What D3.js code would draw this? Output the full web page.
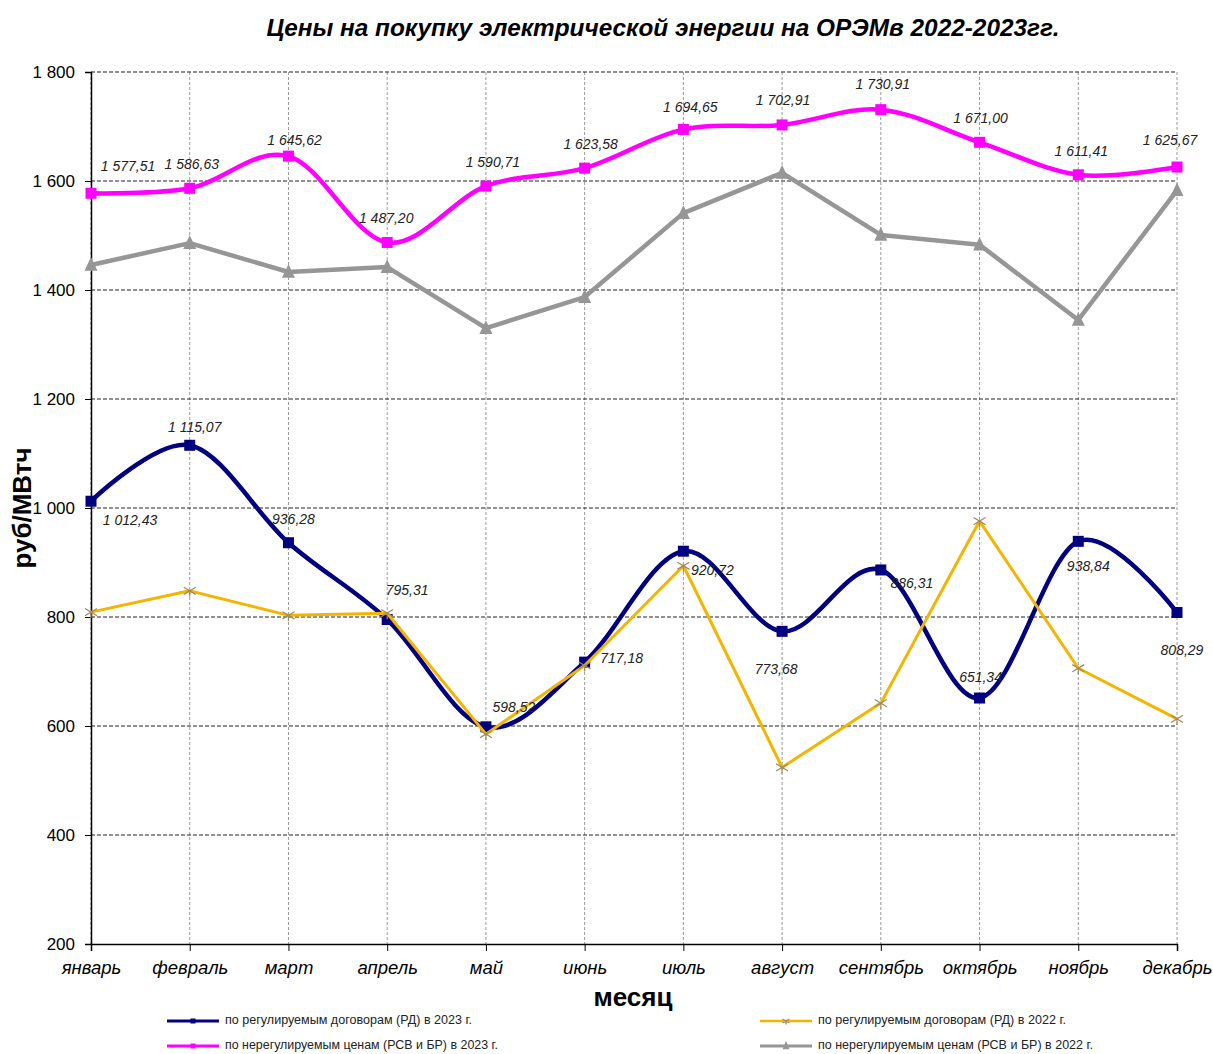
<!DOCTYPE html>
<html><head><meta charset="utf-8">
<script src="https://cdn.jsdelivr.net/npm/d3@7"></script>
<style>body{margin:0;background:#fff}svg{display:block}</style>
</head><body>
<svg id="c" width="1213" height="1054"></svg>
<script>
const months = ["январь","февраль","март","апрель","май","июнь","июль","август","сентябрь","октябрь","ноябрь","декабрь"];
const rd2023 = [1012.43,1115.07,936.28,795.31,598.52,717.18,920.72,773.68,886.31,651.34,938.84,808.29];
const free2023 = [1577.51,1586.63,1645.62,1487.20,1590.71,1623.58,1694.65,1702.91,1730.91,1671.00,1611.41,1625.67];
const rd2022 = [809,848,803,807,585,711,894,524,642,976,706,613];
const free2022 = [1446,1486,1433,1442,1330,1387,1541,1615,1501,1483,1345,1583];
const yTicks = [200,400,600,800,1000,1200,1400,1600,1800];
const legendNames = [
  "по регулируемым договорам (РД) в 2023 г.",
  "по нерегулируемым ценам (РСВ и БР) в 2023 г.",
  "по регулируемым договорам (РД) в 2022 г.",
  "по нерегулируемым ценам (РСВ и БР) в 2022 г."
];
// label placement offsets (px) relative to point
const rdLabelOff = [[39,20],[5,-17],[5,-22],[20,-28],[28,-19],[37,-3],[29,20],[-6,39],[31,14],[1,-20],[10,26],[5,39]];
const freeLabelOff = [[37,-26],[2,-23],[6,-15],[-1,-23],[7,-23],[6,-23],[7,-21],[1,-24],[2,-24],[1,-23],[3,-22],[-7,-26]];

const svg = d3.select("#c");
const L = 91, R = 1177, T = 72, B = 944;
const x = d3.scalePoint().domain(months).range([L, R]).padding(0);
const y = d3.scaleLinear().domain([200,1800]).range([B, T]);
const fmt = v => { const s = v.toFixed(2).replace(".", ","); const [i,d] = s.split(","); return i.replace(/\B(?=(\d{3})+(?!\d))/g," ") + "," + d; };

// title
svg.append("text").attr("x",663).attr("y",36).attr("text-anchor","middle")
  .attr("font-family","'Liberation Sans Narrow','Arial Narrow','Liberation Sans',Arial,sans-serif")
  .attr("font-weight","bold").attr("font-style","italic").attr("font-size",23)
  .attr("textLength",793).attr("lengthAdjust","spacingAndGlyphs")
  .text("Цены на покупку электрической энергии на ОРЭМв  2022-2023гг.");

// gridlines
svg.append("g").selectAll("line").data(months).join("line")
  .attr("x1",d=>x(d)).attr("x2",d=>x(d)).attr("y1",T).attr("y2",B)
  .attr("stroke","#9a9a9a").attr("stroke-width",1).attr("stroke-dasharray","3,2");
svg.append("g").selectAll("line").data(yTicks.filter(v=>v>200)).join("line")
  .attr("x1",L).attr("x2",R).attr("y1",d=>y(d)).attr("y2",d=>y(d))
  .attr("stroke","#222").attr("stroke-width",1).attr("stroke-dasharray","4,2");

// axes
const fmtTick = v => v >= 1000 ? d3.format(",")(v).replace(","," ") : String(v);
const ya = svg.append("g").attr("transform",`translate(${L},0)`)
  .call(d3.axisLeft(y).tickValues(yTicks).tickSize(6).tickPadding(10).tickFormat(fmtTick));
ya.select(".domain").attr("stroke","#000").attr("stroke-width",1.5);
ya.selectAll("text").attr("font-family","'Liberation Sans',Arial,sans-serif").attr("font-size",17).attr("fill","#000");
const xa = svg.append("g").attr("transform",`translate(0,${B})`)
  .call(d3.axisBottom(x).tickSize(7).tickPadding(10));
xa.select(".domain").attr("stroke","#000").attr("stroke-width",1.5);
xa.selectAll("text").attr("font-family","'Liberation Sans',Arial,sans-serif").attr("font-size",18.5)
  .attr("font-style","italic").attr("fill","#000");

// axis titles
svg.append("text").attr("transform","translate(31,508) rotate(-90)").attr("text-anchor","middle")
  .attr("font-family","'Liberation Sans',Arial,sans-serif").attr("font-weight","bold").attr("font-size",26)
  .text("руб/МВтч");
svg.append("text").attr("x",633).attr("y",1006).attr("text-anchor","middle")
  .attr("font-family","'Liberation Sans',Arial,sans-serif").attr("font-weight","bold").attr("font-size",26)
  .text("месяц");

const series = [
  {vals: rd2023, color:"#000080", w:4.5, curve:d3.curveCardinal.tension(0), marker:"square", mc:"#000080", ms:11},
  {vals: free2023, color:"#ff00ff", w:4.5, curve:d3.curveCardinal.tension(0), marker:"square", mc:"#ff00ff", ms:11},
  {vals: rd2022, color:"#f4b400", w:3, curve:d3.curveLinear, marker:"star", mc:"#9b8a63", ms:12},
  {vals: free2022, color:"#969696", w:4.5, curve:d3.curveLinear, marker:"tri", mc:"#969696", ms:13}
];

function drawMarker(g, type, cx, cy, s, c) {
  if (type === "square") {
    g.append("rect").attr("x",cx-s/2).attr("y",cy-s/2).attr("width",s).attr("height",s).attr("fill",c);
  } else if (type === "tri") {
    const h = s*0.9;
    g.append("path").attr("d",`M${cx},${cy-h/2-2}L${cx+s/2},${cy+h/2}L${cx-s/2},${cy+h/2}Z`).attr("fill",c);
  } else {
    const r = s/2;
    g.append("path").attr("d",`M${cx-r},${cy-r*0.6}L${cx+r},${cy+r*0.6}M${cx-r},${cy+r*0.6}L${cx+r},${cy-r*0.6}M${cx},${cy}L${cx},${cy+r}`)
      .attr("stroke",c).attr("stroke-width",1.2).attr("fill","none");
  }
}

series.forEach(s => {
  const g = svg.append("g");
  const line = d3.line().x((d,i)=>x(months[i])).y(d=>y(d)).curve(s.curve);
  g.append("path").attr("d",line(s.vals)).attr("fill","none").attr("stroke",s.color)
    .attr("stroke-width",s.w).attr("stroke-linejoin","round");
  s.vals.forEach((v,i)=>drawMarker(g, s.marker, x(months[i]), y(v), s.ms, s.mc));
});

// data labels
const lab = svg.append("g").attr("font-family","'Liberation Sans',Arial,sans-serif").attr("font-size",14)
  .attr("font-style","italic").attr("fill","#222").attr("text-anchor","middle").attr("dominant-baseline","middle");
rd2023.forEach((v,i)=>lab.append("text").attr("x",x(months[i])+rdLabelOff[i][0]).attr("y",y(v)+rdLabelOff[i][1]).text(fmt(v)));
free2023.forEach((v,i)=>lab.append("text").attr("x",x(months[i])+freeLabelOff[i][0]).attr("y",y(v)+freeLabelOff[i][1]).text(fmt(v)));

// legend
const legPos = [[167,1021],[167,1046],[760,1021],[760,1046]];
const legTextW = [247,273,248,275];
const legW = [3,3,2.5,3];
series.forEach((s,i)=>{
  const [lx,ly] = legPos[i];
  const g = svg.append("g");
  g.append("line").attr("x1",lx).attr("x2",lx+52).attr("y1",ly).attr("y2",ly).attr("stroke",s.color).attr("stroke-width",legW[i]);
  drawMarker(g, s.marker, lx+26, ly, s.marker==="square"?5:7, s.mc);
  g.append("text").attr("x",lx+58).attr("y",ly).attr("dominant-baseline","middle")
    .attr("font-family","'Liberation Sans',Arial,sans-serif").attr("font-size",12).attr("fill","#222")
    .attr("textLength",legTextW[i]).attr("lengthAdjust","spacingAndGlyphs")
    .text(legendNames[i]);
});
</script>
</body></html>
